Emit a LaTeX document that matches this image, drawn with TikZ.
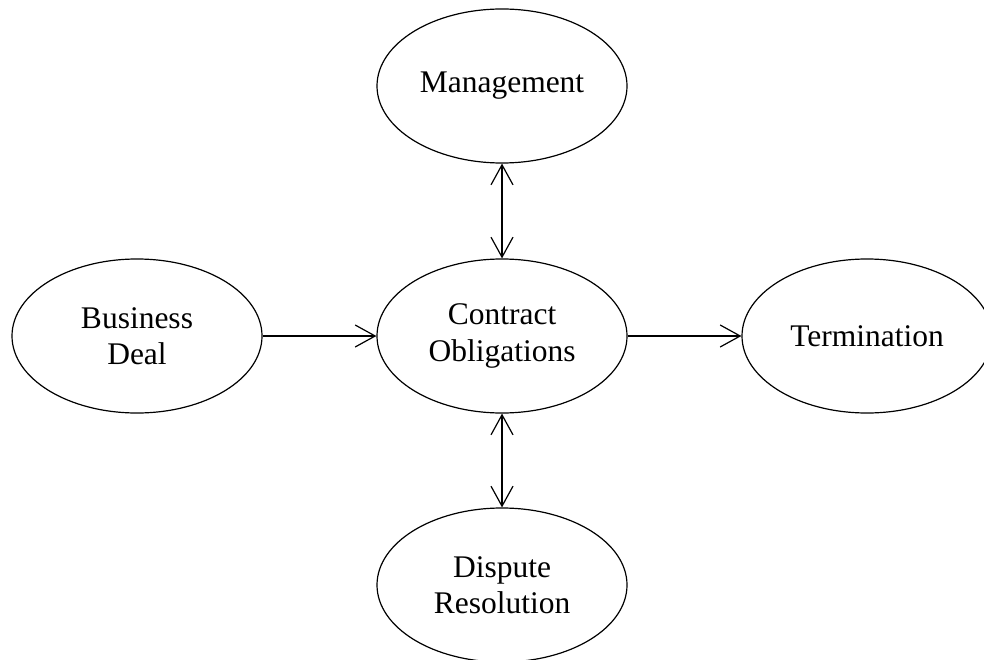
\documentclass[tikz,border=0pt]{standalone}
\usepackage{fontspec}
\setmainfont{Liberation Serif}
\usetikzlibrary{shapes.geometric,arrows.meta}
\tikzset{
  bubble/.style={draw, ellipse, line width=1.2pt, minimum width=250pt, minimum height=154pt, inner sep=0pt, align=center, font=\fontsize{31.5}{36.5}\selectfont},
  link/.style={line width=1.2pt, -{Straight Barb[length=20pt,width=22pt,line width=1.2pt]}},
  duallink/.style={line width=1.2pt, {Straight Barb[length=20pt,width=22pt,line width=1.2pt]}-{Straight Barb[length=20pt,width=22pt,line width=1.2pt]}}
}
\begin{document}
\begin{tikzpicture}[x=1pt,y=-1pt]
\useasboundingbox (0,0) rectangle (984,660);
\node[bubble] (mgmt) at (502,86) {Management};
\node[bubble] (deal) at (137,336) {Business\\Deal};
\node[bubble] (contract) at (502,336) {Contract\\Obligations};
\node[bubble] (term) at (867,336) {Termination};
\node[bubble] (dispute) at (502,585) {Dispute\\Resolution};
\draw[link] (deal) -- (contract);
\draw[link] (contract) -- (term);
\draw[duallink] (mgmt) -- (contract);
\draw[duallink] (contract) -- (dispute);
\end{tikzpicture}
\end{document}
